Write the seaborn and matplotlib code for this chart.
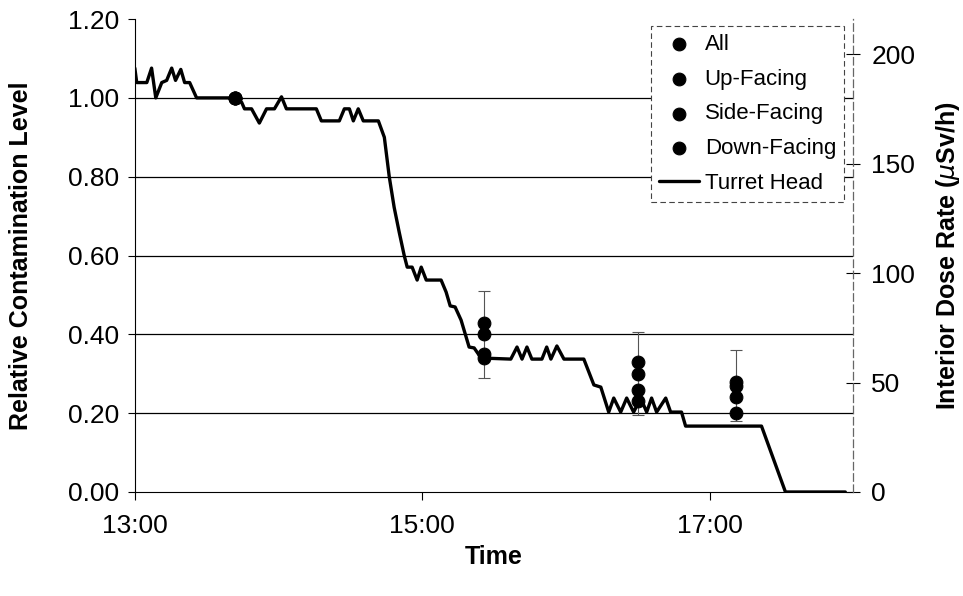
import pandas as pd
import matplotlib
matplotlib.use("Agg")
import matplotlib.pyplot as plt
import matplotlib.dates as mdates
import seaborn as sns

# sample times and relative contamination levels
sample_times = ["13:42", "15:26", "16:30", "17:11"]
all_vals = [1.00, 0.40, 0.30, 0.27]
all_err = [0.0, 0.11, 0.105, 0.09]
up_vals = [1.00, 0.43, 0.33, 0.28]
side_vals = [1.00, 0.35, 0.26, 0.24]
down_vals = [1.00, 0.34, 0.23, 0.20]

# turret head dose rate trace (uSv/h)
turret_times = [
    "13:00:00", "13:00:48", "13:05:00", "13:07:00", "13:08:45", "13:11:15",
    "13:13:18", "13:15:24", "13:17:00", "13:19:12", "13:20:48", "13:22:54",
    "13:25:48", "13:41:42", "13:44:36", "13:45:48", "13:48:45", "13:52:00",
    "13:55:00", "13:58:18", "14:01:15", "14:03:18", "14:15:48", "14:17:54",
    "14:25:24", "14:27:30", "14:29:36", "14:31:15", "14:33:18", "14:35:24",
    "14:41:42", "14:44:12", "14:46:15", "14:48:18", "14:50:24", "14:52:30",
    "14:53:45", "14:55:48", "14:57:54", "14:59:36", "15:01:42", "15:07:54",
    "15:10:00", "15:11:42", "15:13:45", "15:16:15", "15:19:36", "15:21:42",
    "15:24:36", "15:37:00", "15:39:36", "15:41:42", "15:43:45", "15:45:48",
    "15:50:00", "15:52:00", "15:53:45", "15:56:15", "15:59:12", "16:07:30",
    "16:11:42", "16:14:36", "16:17:54", "16:20:00", "16:22:54", "16:25:24",
    "16:28:18", "16:31:15", "16:33:45", "16:35:48", "16:37:54", "16:41:42",
    "16:43:45", "16:48:18", "16:50:00", "17:21:42", "17:31:42", "17:56:42",
]
turret_dose = [
    193.6, 187.0, 187.0, 193.6, 180.0, 187.0,
    188.0, 193.6, 188.0, 193.0, 187.0, 187.0,
    180.0, 180.0, 178.0, 175.0, 175.0, 168.5,
    175.0, 175.0, 180.5, 175.0, 175.0, 169.5,
    169.5, 175.0, 175.0, 169.5, 175.0, 169.5,
    169.5, 162.0, 144.0, 130.0, 118.7, 108.0,
    102.7, 102.7, 96.8, 102.7, 96.8, 96.8,
    91.3, 85.0, 84.5, 78.5, 66.2, 65.8,
    61.2, 60.7, 66.2, 60.7, 66.2, 60.7,
    60.7, 66.2, 60.7, 66.7, 60.7, 60.7,
    48.9, 47.9, 36.5, 42.9, 36.5, 42.9,
    36.5, 42.9, 36.5, 42.9, 36.5, 42.9,
    36.5, 36.5, 30.1, 30.1, 0.0, 0.0,
]

day = "2000-01-01 "
samples = pd.DataFrame({
    "time": pd.to_datetime([day + t for t in sample_times]),
    "All": all_vals,
    "Up-Facing": up_vals,
    "Side-Facing": side_vals,
    "Down-Facing": down_vals,
})
turret = pd.DataFrame({
    "time": pd.to_datetime([day + t for t in turret_times]),
    "dose": turret_dose,
})

sns.set_style("white")
plt.rcParams["font.family"] = ["Liberation Sans", "DejaVu Sans"]
plt.rcParams["text.color"] = "black"
plt.rcParams["axes.labelcolor"] = "black"

fig = plt.figure(figsize=(9.63, 5.96), dpi=100)
ax = fig.add_axes([0.140, 0.1745, 0.746, 0.7935])
ax2 = ax.twinx()

# horizontal gridlines
for g in [0.2, 0.4, 0.6, 0.8, 1.0]:
    ax.axhline(g, color="black", lw=0.9, zorder=0)

# error bars for "All"
ax.errorbar(samples["time"], samples["All"], yerr=all_err, fmt="none",
            ecolor="#555555", elinewidth=0.8, capsize=4, capthick=0.8, zorder=1)

for name in ["All", "Up-Facing", "Side-Facing", "Down-Facing"]:
    sns.scatterplot(data=samples, x="time", y=name, ax=ax, color="black",
                    s=85, edgecolor="black", label=name, zorder=3, legend=False)

sns.lineplot(data=turret, x="time", y="dose", ax=ax2, color="black", lw=2.4,
             label="Turret Head", legend=False)

ax.set_xlim(pd.Timestamp(day + "13:00"), pd.Timestamp(day + "18:00"))
ax.set_ylim(0, 1.2)
ax2.set_ylim(0, 216)
ax.set_yticks([0, 0.2, 0.4, 0.6, 0.8, 1.0, 1.2])
ax.set_yticklabels([f"{v:.2f}" for v in [0, 0.2, 0.4, 0.6, 0.8, 1.0, 1.2]])
ax2.set_yticks([0, 50, 100, 150, 200])
ax.xaxis.set_major_locator(mdates.HourLocator(byhour=[13, 15, 17]))
ax.xaxis.set_major_formatter(mdates.DateFormatter("%H:%M"))

ax.set_xlabel("Time", fontsize=18, fontweight="bold", labelpad=5)
ax.set_ylabel("Relative Contamination Level", fontsize=18, fontweight="bold")
ax2.set_ylabel(r"Interior Dose Rate ($\mu$Sv/h)", fontsize=18, fontweight="bold")
ax.yaxis.set_label_coords(-0.142, 0.5)
ax2.yaxis.set_label_coords(1.112, 0.5)

ax.tick_params(axis="both", labelsize=19, colors="black")
ax.tick_params(axis="y", direction="out", length=5, width=0.8, left=True, pad=6)
ax.tick_params(axis="x", direction="out", length=6, width=0.8, bottom=True, pad=10)
ax2.tick_params(axis="y", direction="inout", length=10, width=0.8, labelsize=19,
                right=True, pad=8, colors="black")

for a in (ax, ax2):
    a.spines["top"].set_visible(False)
ax.spines["left"].set_color("black")
ax.spines["bottom"].set_color("black")
ax.spines["right"].set_visible(False)
ax2.spines["left"].set_visible(False)
ax2.spines["bottom"].set_visible(False)
ax2.spines["right"].set_color("#666666")
ax2.spines["right"].set_linestyle((0, (6, 3)))
ax2.spines["right"].set_linewidth(0.9)

h1, l1 = ax.get_legend_handles_labels()
h2, l2 = ax2.get_legend_handles_labels()
leg = ax2.legend(h1 + h2, l1 + l2, loc="upper right", bbox_to_anchor=(0.987, 0.985),
                 fontsize=16, frameon=True, fancybox=False, framealpha=1,
                 edgecolor="#444444", handlelength=1.8, handletextpad=0.25,
                 labelspacing=0.62, borderpad=0.35, borderaxespad=0.0)
leg.get_frame().set_linewidth(0.8)
leg.get_frame().set_linestyle((0, (5, 3)))

fig.savefig("out.png", dpi=100)
